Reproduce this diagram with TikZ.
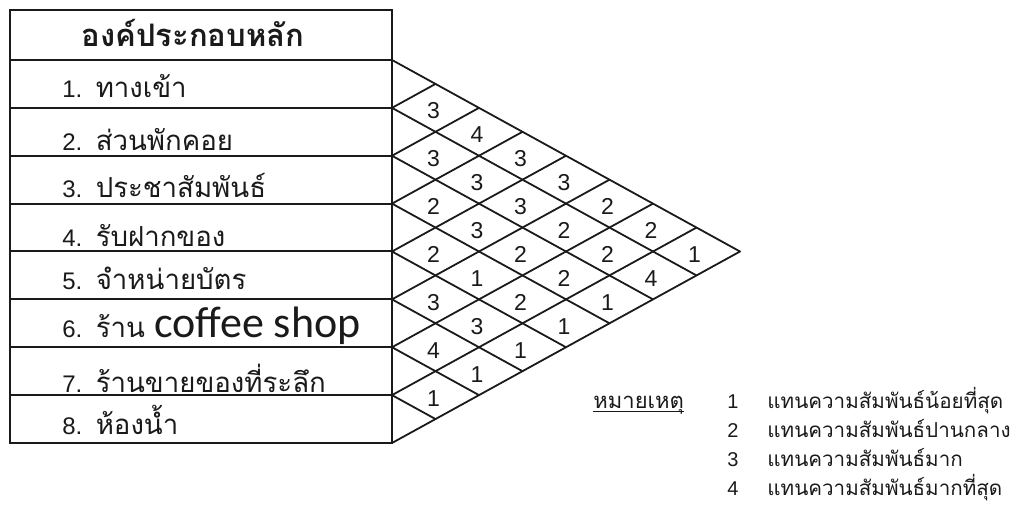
\documentclass[tikz,border=0pt]{standalone}
\usepackage{fontspec}
\setmainfont{Liberation Sans}
\newfontfamily\thai[Script=Thai]{Loma}
\newfontfamily\latin{Carlito}
\usetikzlibrary{positioning,calc}
\definecolor{ink}{HTML}{1A1A1A}
\tikzset{
  tblline/.style={line width=1pt, draw=ink},
  matline/.style={line width=0.9pt, draw=ink, line cap=round},
  rowtxt/.style={anchor=base west, inner sep=0pt, font=\fontsize{12}{14}\selectfont, text=ink},
  cellnum/.style={inner sep=0pt, font=\fontsize{11.5}{13}\selectfont, text=ink},
  legtxt/.style={anchor=base west, inner sep=0pt, font=\fontsize{10}{12}\selectfont, text=ink},
}

\begin{document}
\begin{tikzpicture}[x=0.5pt,y=-0.5pt]
  \useasboundingbox (0,0) rectangle (1029,523);
  % edge points of the table and of the triangle
  \foreach \k in {0,...,8} {
    \coordinate (a\k) at (10,{60+\k*47.875});
    \coordinate (b\k) at (392,{60+\k*47.875});
    \coordinate (t\k) at ({392+\k*43.5},{60+\k*23.9375});
    \coordinate (e\k) at ({392+(8-\k)*43.5},{60+(8+\k)*23.9375});
  }
  \coordinate (top0) at (10,10);
  \coordinate (top1) at (392,10);

  % table
  \draw[tblline] (top0) -- (top1) -- (b8) -- (a8) -- cycle;
  \foreach \k in {0,...,7} \draw[tblline] (a\k) -- (b\k);
  \node[anchor=base, inner sep=0pt, text=ink, font=\thai\bfseries\fontsize{15.5}{17}\selectfont] (head) at (193,47) {องค์ประกอบหลัก};
  \foreach \k/\txt/\by in {1/ทางเข้า/98, 2/ส่วนพักคอย/151, 3/ประชาสัมพันธ์/198, 4/รับฝากของ/247,
      5/จำหน่ายบัตร/290, 6/{ร้าน {\latin\fontsize{22}{24}\selectfont coffee shop}}/338,
      7/ร้านขายของที่ระลึก/393, 8/ห้องน้ำ/435}
    \node[rowtxt] (row\k) at (62,\by) {\k.\ \ {\thai\fontsize{13.8}{15}\selectfont \txt}};

  % relation triangle
  \foreach \k in {0,...,8} \draw[matline] (t\k) -- (b\k) -- (e\k);
  \foreach \i/\j/\v in {1/2/3, 2/3/3, 3/4/2, 4/5/2, 5/6/3, 6/7/4, 7/8/1,
      1/3/4, 2/4/3, 3/5/3, 4/6/1, 5/7/3, 6/8/1,
      1/4/3, 2/5/3, 3/6/2, 4/7/2, 5/8/1,
      1/5/3, 2/6/2, 3/7/2, 4/8/1,
      1/6/2, 2/7/2, 3/8/1,
      1/7/2, 2/8/4,
      1/8/1}
    \node[cellnum] (c\i\j) at ({390+(\j-\i)*43.5},{63+(\i+\j-1)*23.9375}) {\v};

  % legend
  \node[legtxt] (note) at (593,409) {\thai\fontsize{11}{13}\selectfont หมายเหตุ};
  \draw[line width=0.6pt, ink] ([yshift=-1.2pt]note.base west) -- ([yshift=-1.2pt]note.base east);
  \foreach \n/\txt/\by in {1/น้อยที่สุด/409, 2/ปานกลาง/438, 3/มาก/467, 4/มากที่สุด/496} {
    \node[legtxt] (key\n) at (727,\by) {\n};
    \node[legtxt] (def\n) at (767,\by) {\thai\fontsize{10.3}{12}\selectfont แทนความสัมพันธ์\txt};
  }
\end{tikzpicture}
\end{document}
